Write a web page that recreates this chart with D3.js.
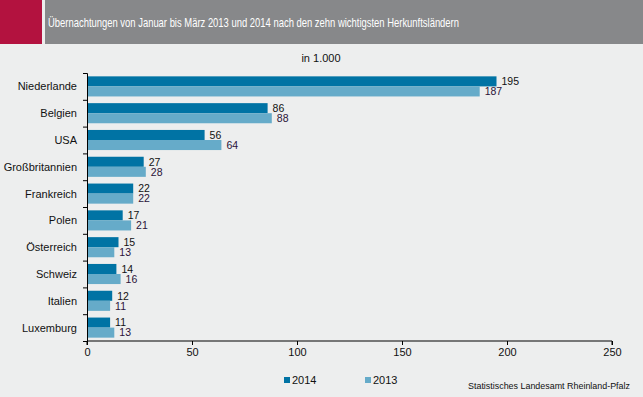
<!DOCTYPE html>
<html>
<head>
<meta charset="utf-8">
<script src="https://cdn.jsdelivr.net/npm/d3@7"></script>
<style>
  html, body { margin: 0; padding: 0; background: #edeeee; }
  svg { display: block; font-family: Arial, "Liberation Sans", sans-serif; }
</style>
</head>
<body>
<div id="chart"></div>
<script>
// ---- Data ----
var countries = ['Niederlande', 'Belgien', 'USA', 'Großbritannien', 'Frankreich',
                 'Polen', 'Österreich', 'Schweiz', 'Italien', 'Luxemburg'];
var values2014 = [195, 86, 56, 27, 22, 17, 15, 14, 12, 11];
var values2013 = [187, 88, 64, 28, 22, 21, 13, 16, 11, 13];
var seriesNames = ['2014', '2013'];
var xTicks = [0, 50, 100, 150, 200, 250];

var W = 643, H = 397;
var COLORS = { '2014': '#0073a4', '2013': '#66abc9' };

var svg = d3.select('#chart').append('svg')
  .attr('width', W).attr('height', H);

svg.append('rect').attr('width', W).attr('height', H).attr('fill', '#edeeee');

// Header
svg.append('rect').attr('x', 0).attr('y', 0).attr('width', 42).attr('height', 44).attr('fill', '#b3123f');
svg.append('rect').attr('x', 45).attr('y', 0).attr('width', W - 45).attr('height', 44).attr('fill', '#87888a');
svg.append('text')
  .attr('x', 48).attr('y', 27)
  .attr('fill', '#ffffff')
  .style('font-size', '13px')
  .attr('textLength', 411).attr('lengthAdjust', 'spacingAndGlyphs')
  .text('Übernachtungen von Januar bis März 2013 und 2014 nach den zehn wichtigsten Herkunftsländern');

// Unit
svg.append('text')
  .attr('x', 321).attr('y', 62)
  .attr('text-anchor', 'middle')
  .style('font-size', '11px').attr('fill', '#111')
  .text('in 1.000');

// ---- Scales ----
var x = d3.scaleLinear().domain([0, 250]).range([87, 612]);
var y = d3.scaleBand().domain(countries).range([73, 341]).paddingInner(0.25).paddingOuter(0.125);
var ySub = d3.scaleBand().domain(seriesNames).range([0, y.bandwidth()]);

var rows = countries.map(function (c, i) {
  return { country: c, values: [{ s: '2014', v: values2014[i] }, { s: '2013', v: values2013[i] }] };
});

var groups = svg.append('g').selectAll('g')
  .data(rows).enter().append('g')
  .attr('transform', function (d) { return 'translate(0,' + y(d.country) + ')'; });

groups.selectAll('rect')
  .data(function (d) { return d.values; })
  .enter().append('rect')
  .attr('x', x(0))
  .attr('y', function (d) { return ySub(d.s); })
  .attr('width', function (d) { return x(d.v) - x(0); })
  .attr('height', ySub.bandwidth())
  .attr('fill', function (d) { return COLORS[d.s]; });

groups.selectAll('text')
  .data(function (d) { return d.values; })
  .enter().append('text')
  .attr('x', function (d) { return x(d.v) + 5; })
  .attr('y', function (d) { return ySub(d.s) + ySub.bandwidth() / 2; })
  .attr('dy', '0.36em')
  .style('font-size', '10.5px')
  .attr('fill', function (d) { return d.s === '2013' ? '#2a1238' : '#111'; })
  .text(function (d) { return d.v; });

// ---- Axes ----
var yAxis = d3.axisLeft(d3.scaleLinear().domain([0, 10]).range([73, 341]))
  .tickValues(d3.range(0, 11)).tickSize(4).tickFormat('');
svg.append('g').attr('transform', 'translate(' + x(0) + ',0)').call(yAxis)
  .call(function (g) { g.select('.domain').attr('stroke', '#000'); });

svg.append('g').selectAll('text')
  .data(countries).enter().append('text')
  .attr('x', 77)
  .attr('y', function (d) { return y(d) + y.bandwidth() / 2; })
  .attr('dy', '0.36em')
  .attr('text-anchor', 'end')
  .style('font-size', '11px').attr('fill', '#111')
  .text(function (d) { return d; });

var xAxis = d3.axisBottom(x).tickValues(xTicks).tickSize(4).tickPadding(3);
var xg = svg.append('g').attr('transform', 'translate(0,341)').call(xAxis);
xg.select('.domain').attr('stroke', '#000').attr('d', 'M' + x(0) + ',4V0H' + x(250) + 'V4');
xg.selectAll('text').style('font-size', '11px').attr('fill', '#111').attr('font-family', null);

// ---- Legend ----
var legendX = { '2014': 284, '2013': 365 };
var legend = svg.append('g').selectAll('g')
  .data(seriesNames).enter().append('g')
  .attr('transform', function (d) { return 'translate(' + legendX[d] + ',376)'; });
legend.append('rect').attr('width', 6).attr('height', 6).attr('y', 1)
  .attr('fill', function (d) { return COLORS[d]; });
legend.append('text').attr('x', 8).attr('y', 4).attr('dy', '0.36em')
  .style('font-size', '11px').attr('fill', '#111')
  .text(function (d) { return d; });

// Source
svg.append('text')
  .attr('x', 468).attr('y', 389)
  .style('font-size', '9.5px').attr('fill', '#111')
  .attr('textLength', 162).attr('lengthAdjust', 'spacingAndGlyphs')
  .text('Statistisches Landesamt Rheinland-Pfalz');
</script>
</body>
</html>
